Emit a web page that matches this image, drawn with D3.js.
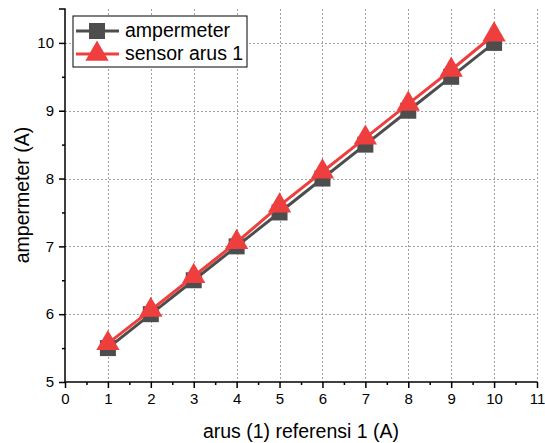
<!DOCTYPE html>
<html>
<head>
<meta charset="utf-8">
<script src="https://cdn.jsdelivr.net/npm/d3@7"></script>
<style>
  body { margin: 0; background: #fff; }
  text { font-family: "Liberation Sans", Arial, sans-serif; fill: #000; }
</style>
</head>
<body>
<div id="chart"></div>
<script>
'use strict';
const xValues = [1, 2, 3, 4, 5, 6, 7, 8, 9, 10];
const ampermeter = [5.5, 6.0, 6.5, 7.0, 7.5, 8.0, 8.5, 9.0, 9.5, 10.0];
const sensorArus1 = [5.57, 6.06, 6.56, 7.06, 7.6, 8.1, 8.6, 9.1, 9.6, 10.12];
const xTicks = [0, 1, 2, 3, 4, 5, 6, 7, 8, 9, 10, 11];
const yTicks = [5, 6, 7, 8, 9, 10];
const seriesNames = ["ampermeter", "sensor arus 1"];

const width = 545, height = 443;
const margin = { left: 65, right: 8, top: 9, bottom: 61 };
const grey = "#4d4d4d", red = "#ef3e3e";

const svg = d3.select("#chart").append("svg")
  .attr("width", width)
  .attr("height", height);

const x = d3.scaleLinear().domain([0, 11]).range([margin.left, width - margin.right]);
const y = d3.scaleLinear().domain([5, 10.5]).range([height - margin.bottom, margin.top]);

// grid
const grid = svg.append("g").attr("stroke", "#a0a0a0").attr("stroke-dasharray", "2,2").attr("stroke-width", 1);
xTicks.slice(1).forEach(function (t) {
  grid.append("line")
    .attr("x1", Math.round(x(t)) + 0.5).attr("x2", Math.round(x(t)) + 0.5)
    .attr("y1", y(10.5)).attr("y2", y(5));
});
yTicks.slice(1).forEach(function (t) {
  grid.append("line")
    .attr("y1", Math.round(y(t)) + 0.5).attr("y2", Math.round(y(t)) + 0.5)
    .attr("x1", x(0)).attr("x2", x(11));
});

// axes
const xAxis = svg.append("g")
  .attr("transform", "translate(0," + y(5) + ")")
  .call(d3.axisBottom(x).tickValues(xTicks).tickFormat(d3.format("d")).tickSize(6).tickPadding(5));
const xMinor = svg.append("g")
  .attr("transform", "translate(0," + y(5) + ")")
  .call(d3.axisBottom(x).tickValues(d3.range(0.5, 11, 1)).tickFormat("").tickSize(3));
const yAxis = svg.append("g")
  .attr("transform", "translate(" + x(0) + ",0)")
  .call(d3.axisLeft(y).tickValues(yTicks).tickFormat(d3.format("d")).tickSize(6).tickPadding(5));
const yMinor = svg.append("g")
  .attr("transform", "translate(" + x(0) + ",0)")
  .call(d3.axisLeft(y).tickValues([5.5, 6.5, 7.5, 8.5, 9.5]).tickFormat("").tickSize(3));

[xAxis, xMinor, yAxis, yMinor].forEach(function (a) {
  a.selectAll("path").attr("stroke-width", 1.5).attr("d", null);
  a.selectAll("line").attr("stroke-width", 1.5);
  a.selectAll("text").style("font-size", "15px").style("font-family", "Liberation Sans, Arial, sans-serif");
});
xAxis.select("path").attr("d", "M" + x(0) + ",0H" + x(11));
yAxis.select("path").attr("d", "M-6," + y(10.5) + "H0V" + y(5));

// lines + markers
const data = [
  { name: seriesNames[0], vals: ampermeter, color: grey, sym: d3.symbolSquare, size: 256 },
  { name: seriesNames[1], vals: sensorArus1, color: red, sym: d3.symbolTriangle, size: 235 }
];
const line = d3.line().x(function (d) { return x(d[0]); }).y(function (d) { return y(d[1]); });

data.forEach(function (s) {
  const pts = xValues.map(function (v, i) { return [v, s.vals[i]]; });
  svg.append("path")
    .datum(pts)
    .attr("d", line)
    .attr("fill", "none")
    .attr("stroke", s.color)
    .attr("stroke-width", 3);
  svg.append("g").selectAll("path")
    .data(pts)
    .join("path")
    .attr("transform", function (d) { return "translate(" + x(d[0]) + "," + y(d[1]) + ")"; })
    .attr("d", d3.symbol().type(s.sym).size(s.size))
    .attr("fill", s.color);
});

// legend
const legend = svg.append("g").attr("transform", "translate(73,16)");
legend.append("rect")
  .attr("width", 174).attr("height", 51)
  .attr("fill", "#fff").attr("stroke", "#000").attr("stroke-width", 1);
data.forEach(function (s, i) {
  const row = legend.append("g").attr("transform", "translate(0," + (15 + i * 23) + ")");
  row.append("line").attr("x1", 3).attr("x2", 46).attr("y1", 0).attr("y2", 0)
    .attr("stroke", s.color).attr("stroke-width", 3);
  row.append("path").attr("transform", "translate(24,0)")
    .attr("d", d3.symbol().type(s.sym).size(s.size)).attr("fill", s.color);
  row.append("text").attr("x", 52).attr("y", 6).style("font-size", "19.5px").text(s.name);
});

// axis titles
svg.append("text")
  .attr("x", 301).attr("y", 438)
  .attr("text-anchor", "middle").style("font-size", "19.5px")
  .text("arus (1) referensi 1 (A)");
svg.append("text")
  .attr("transform", "translate(29,195) rotate(-90)")
  .attr("text-anchor", "middle").style("font-size", "19.5px")
  .text("ampermeter (A)");
</script>
</body>
</html>
